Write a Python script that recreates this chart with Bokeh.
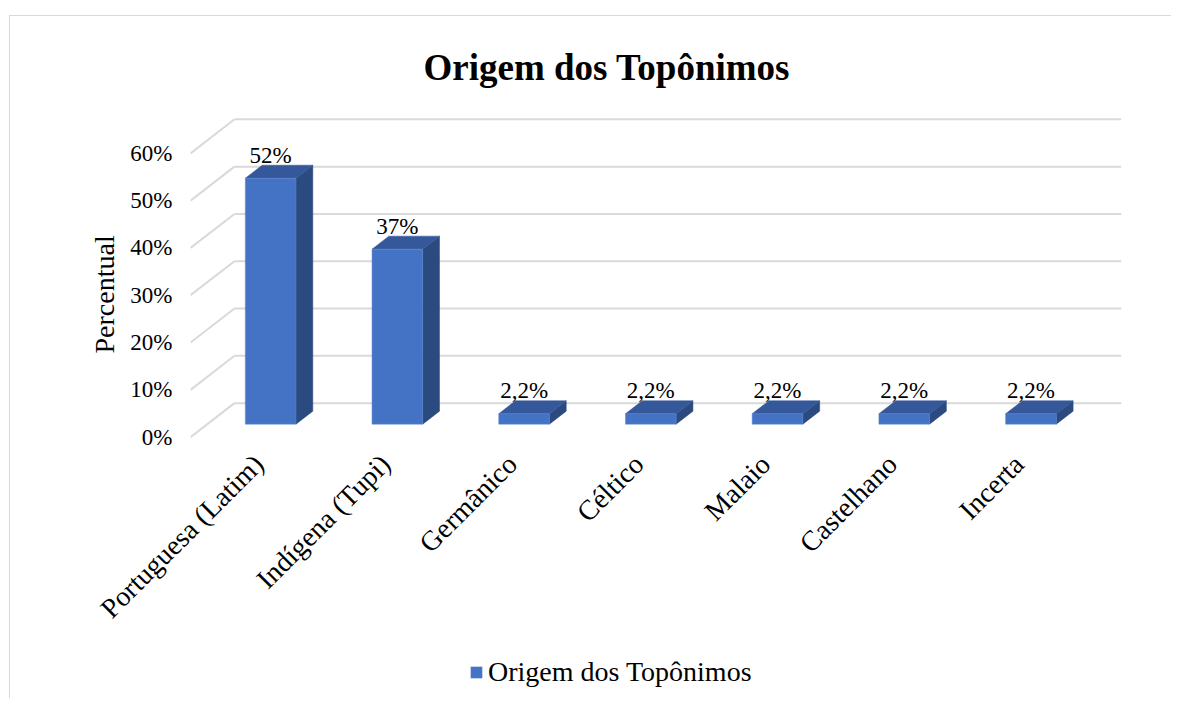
import math
from bokeh.plotting import figure
from bokeh.models import (FixedTicker, LinearAxis, Range1d, Legend, LegendItem,
                          ColumnDataSource, Title)
from bokeh.embed import file_html
from bokeh.resources import INLINE

# ---- data ----
categories = ["Portuguesa (Latim)", "Indígena (Tupi)", "Germânico", "Céltico",
              "Malaio", "Castelhano", "Incerta"]
values = [52, 37, 2.2, 2.2, 2.2, 2.2, 2.2]
value_labels = ["52%", "37%", "2,2%", "2,2%", "2,2%", "2,2%", "2,2%"]
y_ticks = [0, 10, 20, 30, 40, 50, 60]
y_tick_labels = ["0%", "10%", "20%", "30%", "40%", "50%", "60%"]
series_name = "Origem dos Topônimos"
chart_title = "Origem dos Topônimos"
y_title = "Percentual"

# ---- 3D style / layout constants ----
DX = 0.347      # full depth shift in x (category units)
DY = 7.19       # full depth shift in y (percent units)
D1, D2 = 0.382, 0.764   # bar front / back depth fractions
BAR_W = 0.40
FRONT = "#4472C4"
TOP = "#34589A"
SIDE = "#2B4A80"
GRID = "#d9d9d9"
FONT = "Liberation Serif"
PX_PER_UNIT = 4.73      # pixels per percent
FRAME_H = 578           # frame extends below the floor to hold the legend
Y_TOP = 68
Y_START = Y_TOP - FRAME_H / PX_PER_UNIT
FLOOR_TO_FRAME_BOTTOM = -Y_START * PX_PER_UNIT   # pixels below y=0

n = len(categories)
fx, fy = D1 * DX, D1 * DY
bx, by = (D2 - D1) * DX, (D2 - D1) * DY

centers = [i + 0.5 + fx for i in range(n)]
lefts = [c - BAR_W / 2 for c in centers]
rights = [c + BAR_W / 2 for c in centers]

p = figure(frame_width=931, frame_height=FRAME_H, output_backend="svg",
           toolbar_location=None,
           x_range=Range1d(0, n + DX), y_range=Range1d(Y_START, Y_TOP),
           min_border_left=180, min_border_right=50, min_border_top=98,
           min_border_bottom=5, x_axis_type=None, y_axis_type=None)
p.styles = {"margin-left": "9px", "margin-top": "15px",
            "border-left": "1px solid #d9d9d9", "border-top": "1px solid #d9d9d9"}
p.outline_line_color = None
p.xgrid.visible = False
p.ygrid.visible = False
p.background_fill_color = "white"
p.border_fill_color = "white"

# ---- gridlines ----
p.segment(x0=[0] * len(y_ticks), y0=y_ticks,
          x1=[DX] * len(y_ticks), y1=[t + DY for t in y_ticks],
          line_color=GRID, line_width=2)
p.segment(x0=[DX] * len(y_ticks), y0=[t + DY for t in y_ticks],
          x1=[n + DX] * len(y_ticks), y1=[t + DY for t in y_ticks],
          line_color=GRID, line_width=2)

# ---- bars ----
side_xs = [[r, r, r + bx, r + bx] for r in rights]
side_ys = [[fy, v + fy, v + fy + by, fy + by] for v in values]
top_xs = [[l, r, r + bx, l + bx] for l, r in zip(lefts, rights)]
top_ys = [[v + fy, v + fy, v + fy + by, v + fy + by] for v in values]
p.patches(side_xs, side_ys, fill_color=SIDE, line_color=SIDE, line_width=0.5)
p.patches(top_xs, top_ys, fill_color=TOP, line_color=TOP, line_width=0.5)
src = ColumnDataSource(dict(left=lefts, right=rights, bottom=[fy] * n,
                            top=[v + fy for v in values], lab=value_labels,
                            cx=centers, ly=[v + fy + by for v in values]))
front = p.quad(left="left", right="right", bottom="bottom", top="top", source=src,
               fill_color=FRONT, line_color="#5B86D0", line_width=0.5)

# ---- data labels ----
p.text(x="cx", y="ly", text="lab", source=src, text_align="center",
       text_baseline="alphabetic", y_offset=-10, text_font={"value": FONT},
       text_font_size="23px", text_color="#000000")

# ---- axes ----
yax = LinearAxis(ticker=FixedTicker(ticks=y_ticks),
                 major_label_overrides={t: s for t, s in zip(y_ticks, y_tick_labels)})
yax.axis_line_color = None
yax.major_tick_line_color = None
yax.minor_tick_line_color = None
yax.major_label_standoff = 12
yax.major_label_text_font = FONT
yax.major_label_text_font_size = "23px"
yax.major_label_text_color = "#000000"
p.add_layout(yax, "left")

ytitle = Title(text=y_title, align="left", offset=340,
               text_font=FONT, text_font_size="28px", text_font_style="normal",
               text_color="#000000", standoff=16)
p.add_layout(ytitle, "left")

xticks = [round(c - 0.095, 4) for c in centers]
xax = LinearAxis(ticker=FixedTicker(ticks=xticks),
                 major_label_overrides={t: s for t, s in zip(xticks, categories)})
xax.axis_line_color = None
xax.major_tick_line_color = None
xax.minor_tick_line_color = None
xax.major_label_orientation = math.pi / 4
xax.major_label_standoff = 16 - int(round(FLOOR_TO_FRAME_BOTTOM))
xax.major_label_text_font = FONT
xax.major_label_text_font_size = "28px"
xax.major_label_text_color = "#000000"
p.add_layout(xax, "below")

# ---- legend (inside the extended frame, under the category labels) ----
legend = Legend(items=[LegendItem(label=series_name, renderers=[front])],
                orientation="horizontal", location=(279, 5),
                label_text_font=FONT, label_text_font_size="28px",
                label_text_color="#000000", glyph_width=14, glyph_height=14,
                border_line_color=None, background_fill_alpha=0,
                label_standoff=5, padding=0, margin=0)
p.add_layout(legend, "center")

# ---- title ----
p.title = Title(text=chart_title, align="left", text_font=FONT,
                text_font_size="37px", text_font_style="bold",
                text_color="#000000", offset=233, standoff=56)

html = file_html(p, INLINE)
open("out.html", "w").write(html)
